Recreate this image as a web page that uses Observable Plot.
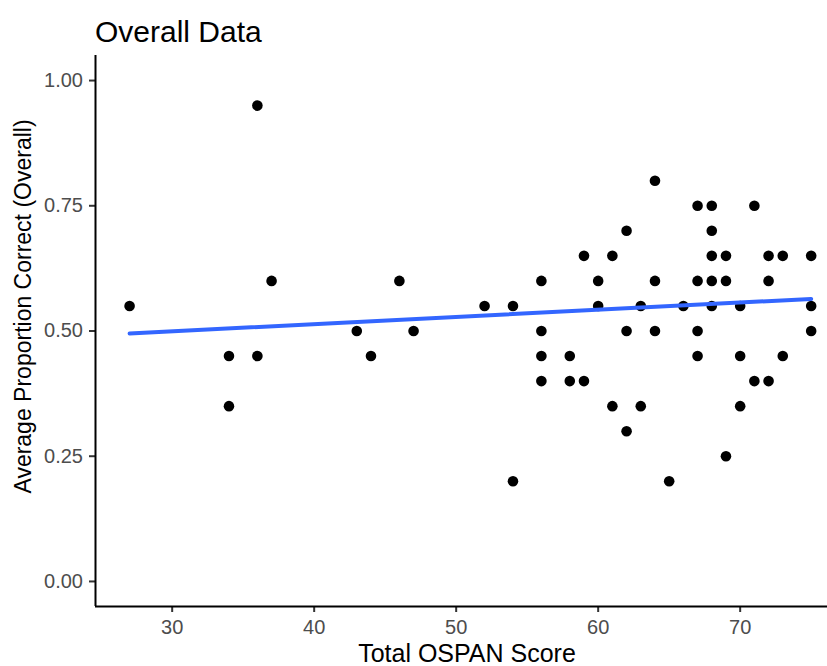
<!DOCTYPE html>
<html>
<head>
<meta charset="utf-8">
<script src="https://cdn.jsdelivr.net/npm/d3@7"></script>
<script src="https://cdn.jsdelivr.net/npm/@observablehq/plot@0.6"></script>
<style>
  html, body { margin: 0; padding: 0; background: #fff; overflow: hidden; }
  #title { font-family: "Liberation Sans", Arial, Helvetica, sans-serif; font-size: 30px; line-height: 30px;
           padding: 17px 0 0 95px; height: 33px; color: #000; }
  #chart svg { overflow: visible; }
</style>
</head>
<body>
<div id="title">Overall Data</div>
<div id="chart"></div>
<script>
const scores = [27,34,34,36,36,37,43,44,46,47,52,54,54,56,56,56,56,58,58,59,59,60,60,61,61,62,62,62,63,63,64,64,64,65,66,67,67,67,67,68,68,68,68,68,69,69,69,70,70,70,71,71,72,72,72,73,73,75,75,75];
const proportions = [0.55,0.45,0.35,0.95,0.45,0.60,0.50,0.45,0.60,0.50,0.55,0.55,0.20,0.60,0.50,0.45,0.40,0.45,0.40,0.65,0.40,0.60,0.55,0.65,0.35,0.70,0.50,0.30,0.55,0.35,0.80,0.60,0.50,0.20,0.55,0.75,0.60,0.50,0.45,0.75,0.70,0.65,0.60,0.55,0.65,0.60,0.25,0.55,0.45,0.35,0.75,0.40,0.65,0.60,0.40,0.65,0.45,0.65,0.55,0.50];
// fitted linear trend at the ends of the data range
const fitX = [27, 75];
const fitY = [0.495, 0.564];
const xTicks = [30, 40, 50, 60, 70];
const yTicks = [0, 0.25, 0.5, 0.75, 1];
const xLabel = "Total OSPAN Score";
const yLabel = "Average Proportion Correct (Overall)";

const data = scores.map((s, i) => ({score: s, prop: proportions[i]}));
const fit = fitX.map((x, i) => ({score: x, prop: fitY[i]}));
const xDomain = [24.6, 76.15];
const yDomain = [-0.05, 1.05];

const chart = Plot.plot({
  width: 827,
  height: 616,
  marginLeft: 95,
  marginRight: 0,
  marginTop: 5,
  marginBottom: 60,
  style: {fontFamily: "'Liberation Sans', Arial, Helvetica, sans-serif", background: "#fff"},
  x: {domain: xDomain},
  y: {domain: yDomain},
  marks: [
    Plot.axisX({ticks: xTicks, tickSize: 6, tickPadding: 7, fontSize: 20, stroke: "#333333", strokeWidth: 2, fill: "#4d4d4d", label: null}),
    Plot.axisY({ticks: yTicks, tickSize: 6, tickPadding: 6.5, fontSize: 20, stroke: "#333333", strokeWidth: 2, fill: "#4d4d4d", tickFormat: d3.format(".2f"), label: null}),
    Plot.ruleX([xDomain[0]], {stroke: "#000", strokeWidth: 2}),
    Plot.ruleY([yDomain[0]], {stroke: "#000", strokeWidth: 2}),
    Plot.dot(data, {x: "score", y: "prop", r: 5.3, fill: "#000", stroke: null}),
    Plot.line(fit, {x: "score", y: "prop", stroke: "#3366FF", strokeWidth: 4}),
    Plot.text([xLabel], {frameAnchor: "bottom", lineAnchor: "bottom", dx: 5.5, dy: 55.7, fontSize: 25, fill: "#000"}),
    Plot.text([yLabel], {frameAnchor: "left", rotate: -90, textAnchor: "middle", lineAnchor: "middle", dx: -72, dy: -24.5, fontSize: 23, fill: "#000"})
  ]
});
document.getElementById("chart").appendChild(chart);
</script>
</body>
</html>
